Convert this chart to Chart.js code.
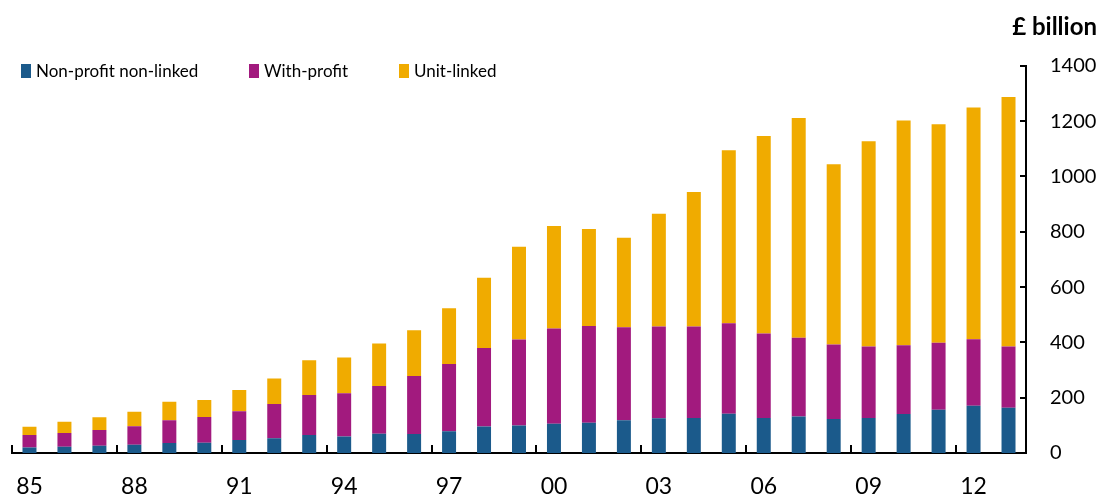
<!DOCTYPE html>
<html>
<head>
<meta charset="utf-8">
<script src="https://cdn.jsdelivr.net/npm/chart.js@4.4.0/dist/chart.umd.min.js"></script>
<style>
  body { margin: 0; background: #fff; }
  #wrap { position: relative; width: 1101px; height: 497px; }
  #legend { position: absolute; left: 21px; top: 60px; display: flex; font-family: Lato, sans-serif; font-size: 17px; color: #000; }
  .item { display: flex; align-items: center; }
  .item:nth-child(1) { width: 228px; }
  .item:nth-child(2) { width: 150px; }
  .swatch { width: 10px; height: 14px; margin-right: 5px; }
</style>
</head>
<body>
<div id="wrap">
  <canvas id="chart" width="1101" height="497"></canvas>
  <div id="legend"></div>
</div>
<script>
// Years 1985-2013, shown as two-digit labels
const years = ["85", "86", "87", "88", "89", "90", "91", "92", "93", "94",
  "95", "96", "97", "98", "99", "00", "01", "02", "03", "04",
  "05", "06", "07", "08", "09", "10", "11", "12", "13"];

// £ billion
const nonProfitNonLinked = [20, 23, 26, 30, 36, 37, 47, 53, 65, 60,
  70, 69, 79, 96, 99, 106, 109, 118, 126, 127,
  142, 127, 132, 123, 127, 141, 156, 171, 164];

const withProfit = [45, 49, 57, 67, 82, 93, 104, 124, 145, 156,
  172, 209, 243, 284, 311, 344, 350, 337, 331, 330,
  327, 305, 285, 269, 258, 249, 243, 240, 221];

const unitLinked = [30, 41, 46, 52, 67, 62, 77, 92, 125, 129,
  154, 166, 201, 254, 336, 371, 351, 323, 408, 487,
  626, 714, 794, 652, 742, 812, 790, 838, 902];

const yTicks = [0, 200, 400, 600, 800, 1000, 1200, 1400];

const seriesNames = ["Non-profit non-linked", "With-profit", "Unit-linked"];
const seriesColors = ["#1b5a8b", "#a21a7e", "#f0ab00"];
const seriesData = [nonProfitNonLinked, withProfit, unitLinked];

// Excel-style tick marks: inside the plot, every 3rd category boundary on x
const tickMarks = {
  id: "tickMarks",
  afterDraw(chart) {
    const ctx = chart.ctx;
    const x = chart.scales.x;
    const y = chart.scales.y;
    const area = chart.chartArea;
    const step = (x.right - x.left) / years.length;
    ctx.save();
    ctx.strokeStyle = "#000";
    ctx.lineWidth = 2;
    ctx.beginPath();
    for (let i = 0; i < years.length; i += 3) {
      const px = Math.round(x.getPixelForValue(i) - step / 2);
      ctx.moveTo(px, area.bottom);
      ctx.lineTo(px, area.bottom - 8);
    }
    yTicks.forEach((v) => {
      const py = Math.round(y.getPixelForValue(v));
      ctx.moveTo(area.right, py);
      ctx.lineTo(area.right - 6, py);
    });
    ctx.stroke();
    ctx.restore();
  },
};

const chart = new Chart(document.getElementById("chart"), {
  type: "bar",
  data: {
    labels: years,
    datasets: seriesData.map((data, i) => ({
      label: seriesNames[i],
      data: data,
      backgroundColor: seriesColors[i],
      borderWidth: 0,
      categoryPercentage: 1,
      barPercentage: 0.4,
    })),
  },
  options: {
    responsive: false,
    animation: false,
    layout: { padding: { left: 12, right: 4, top: 0, bottom: 0 } },
    plugins: {
      legend: { display: false },
      tooltip: { enabled: false },
      title: {
        display: true,
        text: "£ billion",
        align: "end",
        color: "#000",
        font: { family: "Lato", size: 24, weight: "bold", lineHeight: 1.2 },
        padding: { top: 13, bottom: 24 },
      },
    },
    scales: {
      x: {
        stacked: true,
        grid: { display: false, drawTicks: false, offset: true },
        border: { display: true, color: "#000", width: 2 },
        afterFit: (scale) => {
          scale.height = 44;
          scale.paddingLeft = 0;
          scale.paddingRight = 0;
        },
        ticks: {
          autoSkip: false,
          maxRotation: 0,
          padding: 22,
          color: "#000",
          font: { family: "Lato", size: 23, lineHeight: 1 },
          callback: (value, index) => (index % 3 === 0 ? years[index] : ""),
        },
      },
      y: {
        stacked: true,
        position: "right",
        min: 0,
        max: 1400,
        grid: { display: false, drawTicks: false },
        border: { display: true, color: "#000", width: 2 },
        afterFit: (scale) => { scale.width = 71; },
        ticks: {
          stepSize: 200,
          padding: 24,
          color: "#000",
          font: { family: "Lato", size: 20 },
          callback: (value) => String(value),
        },
      },
    },
  },
  plugins: [tickMarks],
});

// HTML legend built from the chart's datasets
const legendEl = document.getElementById("legend");
chart.data.datasets.forEach((ds) => {
  const item = document.createElement("div");
  item.className = "item";
  const sw = document.createElement("span");
  sw.className = "swatch";
  sw.style.background = ds.backgroundColor;
  const label = document.createElement("span");
  label.textContent = ds.label;
  item.appendChild(sw);
  item.appendChild(label);
  legendEl.appendChild(item);
});
</script>
</body>
</html>
